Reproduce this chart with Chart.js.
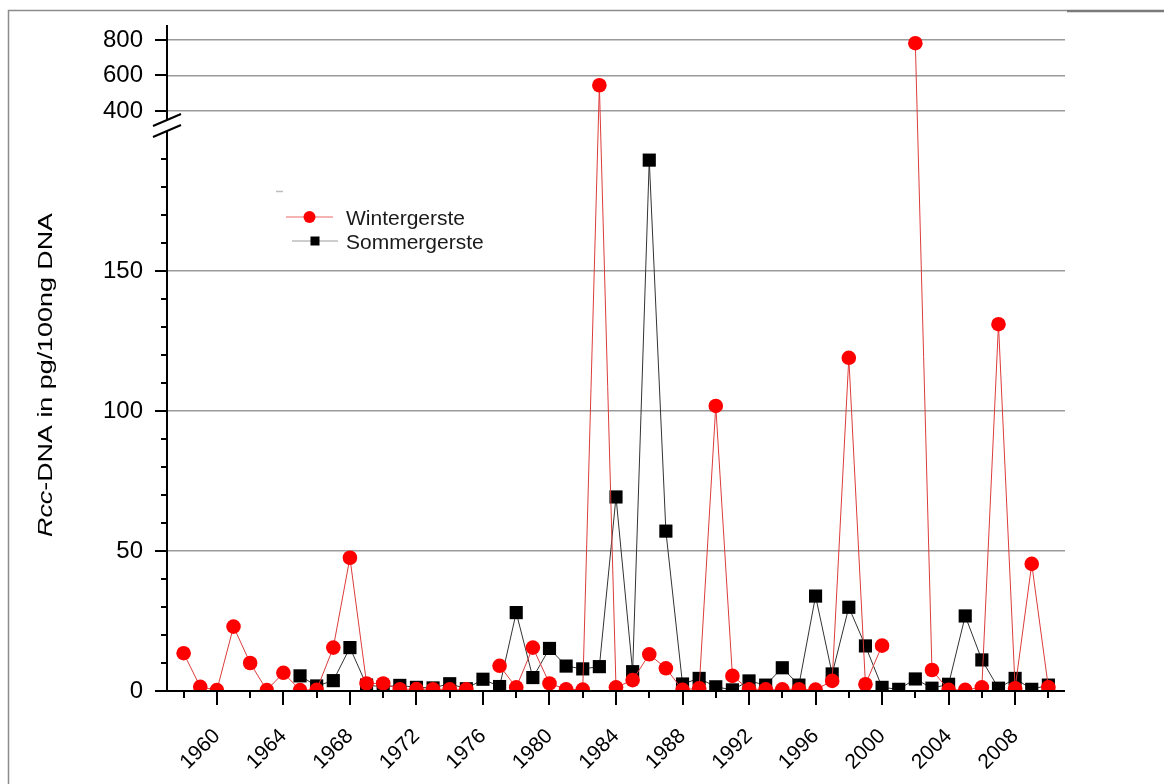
<!DOCTYPE html>
<html>
<head>
<meta charset="utf-8">
<script src="https://cdn.jsdelivr.net/npm/chart.js@4"></script>
<style>
html,body{margin:0;padding:0;background:#fff;}
#wrap{position:relative;width:1164px;height:784px;}
canvas{display:block;}
</style>
</head>
<body>
<div id="wrap"><canvas id="c" width="1164" height="784"></canvas></div>
<script>
// ---------- data ----------
const YEARS = [1958,1959,1960,1961,1962,1963,1964,1965,1966,1967,1968,1969,1970,1971,1972,1973,1974,1975,1976,1977,1978,1979,1980,1981,1982,1983,1984,1985,1986,1987,1988,1989,1990,1991,1992,1993,1994,1995,1996,1997,1998,1999,2000,2001,2002,2003,2004,2005,2006,2007,2008,2009,2010];
const WINTERGERSTE = [13.5,1.5,0.3,23,10,0.3,6.5,0.3,0.4,15.5,47.6,2.7,2.7,0.6,0.7,0.6,0.6,0.6,null,9,1.3,15.5,2.7,0.6,0.5,545,1.3,3.9,13.1,8.1,0.4,1.0,101.8,5.4,0.6,0.6,0.6,0.6,0.5,3.6,119,2.4,16.2,null,782,7.5,0.4,0.4,1.3,131,1.0,45.4,1.3];
const SOMMERGERSTE = [null,null,null,null,null,null,null,5.4,1.8,3.7,15.5,2.1,1.5,2.0,1.3,1.1,2.6,0.8,4.2,1.6,28,4.8,15.2,8.9,7.9,8.7,69.3,6.9,189.6,57.1,2.5,4.5,1.5,0.4,3.6,2.1,8.3,2.1,33.9,6.1,29.9,16.1,1.3,0.6,4.3,1.0,2.4,26.8,11.1,1.0,4.5,0.6,2.1];
const SERIES_NAMES = ['Wintergerste','Sommergerste'];
const X_TICKS = [1960,1964,1968,1972,1976,1980,1984,1988,1992,1996,2000,2004,2008];
const Y_TICKS = [0,50,100,150,400,600,800];
const AXIS_TITLE_ITALIC = 'Rcc';
const AXIS_TITLE_REST = '-DNA in pg/100ng DNA';

// ---------- broken axis configuration ----------
const X_MIN = 1957, X_MAX = 2011;
const LOW_MAX = 200, HIGH_MIN = 400, Y_MAX = 884.5;
const F_LOW = 560/666, F_HIGH = 580/666;
const FONT = "'Liberation Sans', Arial, sans-serif";

function toDec(v){
  if (v <= LOW_MAX) return v / LOW_MAX * F_LOW;
  if (v < HIGH_MIN) return F_LOW + (v - LOW_MAX) / (HIGH_MIN - LOW_MAX) * (F_HIGH - F_LOW);
  return F_HIGH + (v - HIGH_MIN) / (Y_MAX - HIGH_MIN) * (1 - F_HIGH);
}
function fromDec(d){
  if (d <= F_LOW) return d / F_LOW * LOW_MAX;
  if (d < F_HIGH) return LOW_MAX + (d - F_LOW) / (F_HIGH - F_LOW) * (HIGH_MIN - LOW_MAX);
  return HIGH_MIN + (d - F_HIGH) / (1 - F_HIGH) * (Y_MAX - HIGH_MIN);
}

class BrokenScale extends Chart.LinearScale {
  static id = 'broken';
  static defaults = {};
  buildTicks(){ return Y_TICKS.map(v => ({value: v})); }
  getPixelForValue(value){ return this.getPixelForDecimal(toDec(value)); }
  getValueForPixel(pixel){ return fromDec(this.getDecimalForPixel(pixel)); }
}
Chart.register(BrokenScale);

// ---------- plugins ----------
const framePlugin = {
  id: 'frame',
  beforeDraw(chart){
    const ctx = chart.ctx;
    ctx.save();
    ctx.strokeStyle = '#8c8c8c';
    ctx.lineWidth = 1.5;
    ctx.beginPath();
    ctx.moveTo(8, 10.5); ctx.lineTo(1067, 10.5);
    ctx.moveTo(8.5, 10); ctx.lineTo(8.5, 784);
    ctx.stroke();
    ctx.strokeStyle = '#7a7a7a';
    ctx.lineWidth = 2.5;
    ctx.beginPath();
    ctx.moveTo(1067, 11); ctx.lineTo(1164, 11);
    ctx.stroke();
    ctx.restore();
  }
};

const axesPlugin = {
  id: 'axesDraw',
  afterDraw(chart){
    const ctx = chart.ctx;
    const xs = chart.scales.x, ys = chart.scales.y;
    const a = chart.chartArea;
    ctx.save();
    ctx.strokeStyle = '#000';
    ctx.lineWidth = 2;
    ctx.lineCap = 'butt';
    // x axis line
    ctx.beginPath();
    ctx.moveTo(a.left - 1, a.bottom); ctx.lineTo(a.right, a.bottom);
    ctx.stroke();
    // x ticks
    ctx.beginPath();
    for (let yr = 1958; yr <= 2010; yr += 2) {
      const px = Math.round(xs.getPixelForValue(yr));
      const len = X_TICKS.includes(yr) ? 14 : 7;
      ctx.moveTo(px, a.bottom); ctx.lineTo(px, a.bottom + len);
    }
    ctx.stroke();
    // y axis line with break
    const yLowTop = ys.getPixelForValue(LOW_MAX);
    const yHighBottom = ys.getPixelForValue(HIGH_MIN) + 9;
    ctx.beginPath();
    ctx.moveTo(a.left, a.bottom + 1); ctx.lineTo(a.left, yLowTop);
    ctx.moveTo(a.left, yHighBottom); ctx.lineTo(a.left, a.top);
    ctx.stroke();
    // break marks
    ctx.beginPath();
    ctx.moveTo(a.left - 14, yHighBottom + 6); ctx.lineTo(a.left + 14, yHighBottom - 6);
    ctx.moveTo(a.left - 14, yLowTop + 6); ctx.lineTo(a.left + 14, yLowTop - 6);
    ctx.stroke();
    // y ticks
    ctx.beginPath();
    Y_TICKS.forEach(v => {
      const py = Math.round(ys.getPixelForValue(v));
      ctx.moveTo(a.left, py); ctx.lineTo(a.left - 12, py);
    });
    for (let v = 10; v < LOW_MAX; v += 10) {
      if (v % 50 === 0) continue;
      const py = Math.round(ys.getPixelForValue(v));
      ctx.moveTo(a.left, py); ctx.lineTo(a.left - 6, py);
    }
    ctx.stroke();

    // axis title (mixed italic)
    const size = 21;
    ctx.fillStyle = '#000';
    ctx.textBaseline = 'alphabetic';
    ctx.font = 'italic ' + size + 'px ' + FONT;
    const w1 = ctx.measureText(AXIS_TITLE_ITALIC).width;
    ctx.font = size + 'px ' + FONT;
    const w2 = ctx.measureText(AXIS_TITLE_REST).width;
    const total = w1 + w2;
    const sx = 324 / total;
    ctx.translate(52, 375);
    ctx.rotate(-Math.PI / 2);
    ctx.scale(sx, 1);
    ctx.textAlign = 'left';
    ctx.font = 'italic ' + size + 'px ' + FONT;
    ctx.fillText(AXIS_TITLE_ITALIC, -total / 2, 0);
    ctx.font = size + 'px ' + FONT;
    ctx.fillText(AXIS_TITLE_REST, -total / 2 + w1, 0);
    ctx.restore();

    // legend
    ctx.save();
    const ds = chart.data.datasets;
    ctx.strokeStyle = '#bdbdbd'; ctx.lineWidth = 1.5;
    ctx.beginPath(); ctx.moveTo(276, 191.5); ctx.lineTo(283, 191.5); ctx.stroke();
    ctx.strokeStyle = '#f29a9a'; ctx.lineWidth = 1.5;
    ctx.beginPath(); ctx.moveTo(286, 217); ctx.lineTo(333, 217); ctx.stroke();
    ctx.fillStyle = ds[0].pointBackgroundColor;
    ctx.beginPath(); ctx.arc(309.5, 217, 6, 0, Math.PI * 2); ctx.fill();
    ctx.strokeStyle = '#bdbdbd'; ctx.lineWidth = 1.5;
    ctx.beginPath(); ctx.moveTo(292, 241); ctx.lineTo(338, 241); ctx.stroke();
    ctx.fillStyle = ds[1].pointBackgroundColor;
    ctx.fillRect(310.5, 236.5, 9, 9);
    ctx.fillStyle = '#1a1a1a';
    ctx.font = '21px ' + FONT;
    ctx.textAlign = 'left';
    ctx.textBaseline = 'middle';
    ctx.fillText(ds[0].label, 346, 219);
    ctx.fillText(ds[1].label, 346, 243);
    ctx.restore();
  }
};

// ---------- chart ----------
const toPoints = arr => YEARS.map((yr, i) => ({x: yr, y: arr[i]}));

new Chart(document.getElementById('c'), {
  type: 'line',
  data: {
    datasets: [
      {
        label: SERIES_NAMES[0],
        data: toPoints(WINTERGERSTE),
        borderColor: '#dd3b3b',
        borderWidth: 1,
        pointStyle: 'circle',
        pointRadius: 7.3,
        pointBackgroundColor: '#ff0000',
        pointBorderWidth: 0,
        spanGaps: false,
        tension: 0,
        clip: 0
      },
      {
        label: SERIES_NAMES[1],
        data: toPoints(SOMMERGERSTE),
        borderColor: '#333333',
        borderWidth: 1,
        pointStyle: 'rect',
        pointRadius: 9.3,
        pointBackgroundColor: '#000000',
        pointBorderWidth: 0,
        spanGaps: false,
        tension: 0,
        clip: 0
      }
    ]
  },
  options: {
    responsive: false,
    animation: false,
    events: [],
    layout: {padding: {top: 25, right: 99, left: 0, bottom: 0}},
    plugins: {legend: {display: false}, tooltip: {enabled: false}, title: {display: false}},
    scales: {
      x: {
        type: 'linear',
        min: X_MIN,
        max: X_MAX,
        afterBuildTicks: s => { s.ticks = X_TICKS.map(v => ({value: v})); },
        afterFit: s => { s.height = 93; s.paddingLeft = 0; s.paddingRight = 0; },
        grid: {display: false, drawTicks: false},
        border: {display: false},
        ticks: {
          autoSkip: false,
          maxRotation: 45,
          minRotation: 45,
          padding: 33,
          color: '#000',
          font: {size: 21, family: FONT},
          callback: v => String(v)
        }
      },
      y: {
        type: 'broken',
        min: 0,
        max: Y_MAX,
        afterFit: s => { s.width = 167; s.paddingTop = 0; s.paddingBottom = 0; },
        grid: {
          drawTicks: false,
          lineWidth: 1.5,
          color: c => (c.tick && c.tick.value === 0) ? 'rgba(0,0,0,0)' : '#9a9a9a'
        },
        border: {display: false},
        ticks: {
          autoSkip: false,
          padding: 24,
          color: '#000',
          font: {size: 24, family: FONT},
          callback: v => String(v)
        }
      }
    }
  },
  plugins: [framePlugin, axesPlugin]
});
</script>
</body>
</html>
